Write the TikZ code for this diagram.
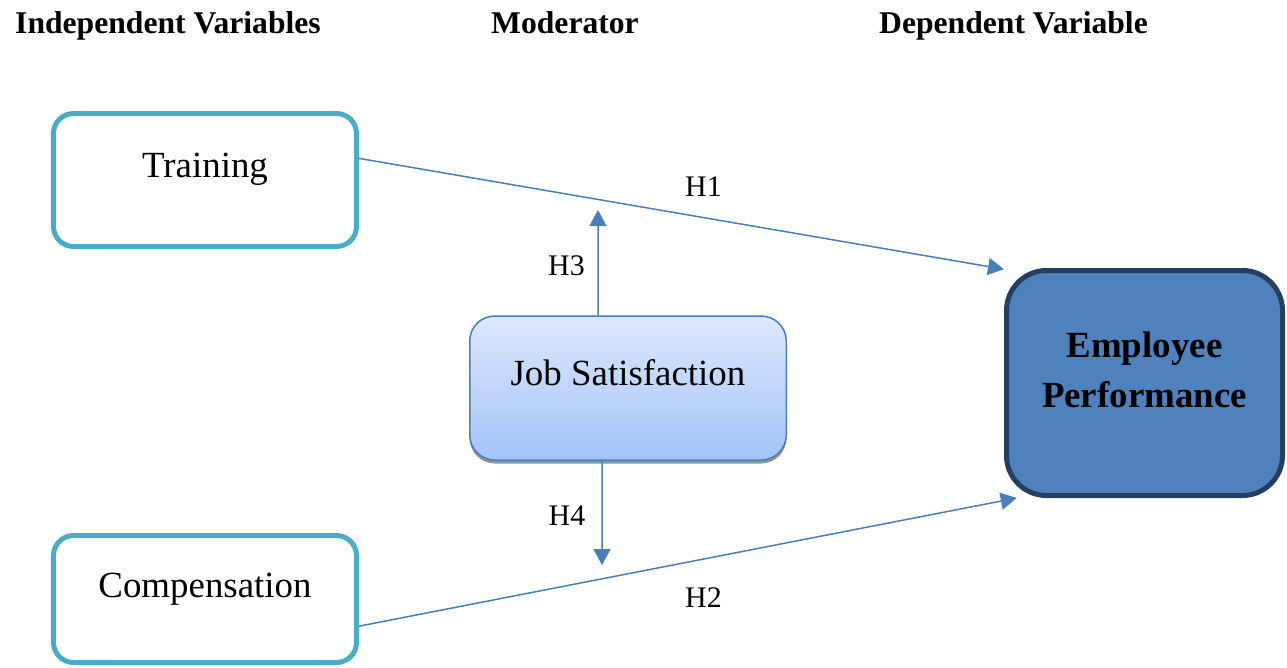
\documentclass[tikz,border=0pt]{standalone}
\usepackage{fontspec}
\setmainfont{Liberation Serif}
\usepackage{tikz}
\usetikzlibrary{positioning}
\usetikzlibrary{arrows.meta}
\usetikzlibrary{shadows}
\definecolor{ivteal}{HTML}{4BACC6}
\definecolor{arrblue}{HTML}{4A7EBB}
\definecolor{perffill}{HTML}{4F81BD}
\definecolor{perfline}{HTML}{243F60}
\definecolor{modtop}{HTML}{DEE8FC}
\definecolor{modbottom}{HTML}{A3C3F9}

\begin{document}
\begin{tikzpicture}[x=0.2mm, y=-0.2mm,
		head/.style={font={\fontsize{18}{21}\selectfont\bfseries}, anchor=base, inner sep=0},
		hyp/.style={font={\fontsize{17}{20}\selectfont}, anchor=base, inner sep=0},
		ivbox/.style={draw=ivteal, line width={1mm}, rounded corners=4mm, minimum width=60.6mm, inner ysep=0, anchor=base, font={\fontsize{21}{25}\selectfont}},
		modbox/.style={draw=arrblue, line width={0.3mm}, rounded corners=5mm, top color=modtop, bottom color=modbottom, drop shadow={shadow xshift=0mm, shadow yshift=-0.7mm, fill=gray!85, opacity=1}, minimum width=63.3mm, text height=13.8mm, text depth=15mm, inner ysep=0, anchor=base, font={\fontsize{21}{25}\selectfont}},
		dvbox/.style={draw=perfline, fill=perffill, line width={1mm}, rounded corners=8mm, minimum width=55.2mm, text height=17.3mm, text depth=27.7mm, inner ysep=0, anchor=base, font={\fontsize{21}{28.5}\selectfont\bfseries}},
		arr/.style={draw=arrblue, line width={0.3mm}, -{Triangle[length=3.2mm, width=3.4mm]}}]
	\useasboundingbox (0,0) rectangle (1287,667);
	\node[head] (head-indep) at (168,33) {Independent Variables};
	\node[head] (head-mod) at (565,33) {Moderator};
	\node[head] (head-dep) at (1013.5,33) {Dependent Variable};
	\node[ivbox, text height=12.7mm, text depth=13.9mm] (box-training) at (205,177) {Training};
	\node[ivbox, text height=12.3mm, text depth=13.1mm] (box-comp) at (205,597) {Compensation};
	\node[modbox] (box-jobsat) at (628,385) {Job Satisfaction};
	\node[dvbox] (box-perf) at (1144.5,357) {\begin{tabular}[t]{@{}c@{}}Employee\\Performance\end{tabular}};
	\coordinate (end-h3) at (598,210);
	\coordinate (end-h4) at (602,565);
	\draw[arr] (box-training.8.6) to (box-perf.141);
	\draw[arr] (box-comp.-10) to (box-perf.222);
	\draw[arr] ([xshift=-6mm]box-jobsat.north) to (end-h3);
	\draw[arr] ([xshift=-5.2mm]box-jobsat.south) to (end-h4);
	\node[hyp] (lbl-h1) at (703.5,196) {H1};
	\node[hyp] (lbl-h2) at (703.5,607) {H2};
	\node[hyp] (lbl-h3) at (566.5,275) {H3};
	\node[hyp] (lbl-h4) at (567,525) {H4};
\end{tikzpicture}
\end{document}
